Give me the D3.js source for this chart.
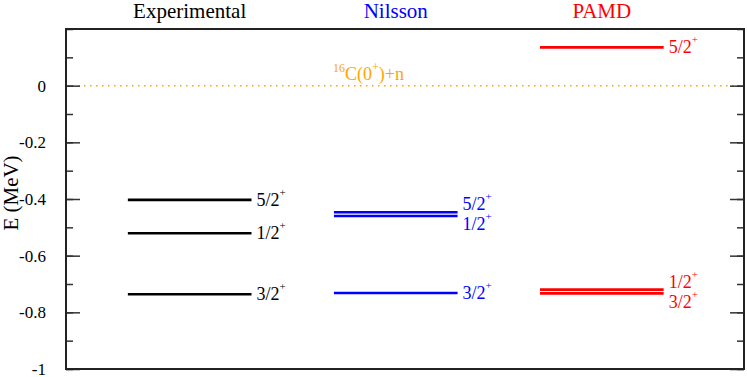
<!DOCTYPE html>
<html>
<head>
<meta charset="utf-8">
<script src="https://cdn.jsdelivr.net/npm/d3@7"></script>
<style>
  body { margin: 0; background: #fff; }
  svg text { font-family: "Liberation Serif", serif; }
</style>
</head>
<body>
<svg id="chart"></svg>
<script>
// Level scheme data
const groups = ["Experimental", "Nilsson", "PAMD"];
const groupColors = ["#000000", "#0000ff", "#ff0000"];
const expLevels = [-0.403, -0.521, -0.736];
const expSpins = ["5/2", "1/2", "3/2"];
const nilssonLevels = [-0.447, -0.460, -0.732];
const nilssonSpins = ["5/2", "1/2", "3/2"];
const pamdLevels = [0.135, -0.720, -0.733];
const pamdSpins = ["5/2", "1/2", "3/2"];
const thresholdE = 0;
const thresholdLabel = ["16", "C(0", "+", ")+n"];
const yTicks = [0, -0.2, -0.4, -0.6, -0.8, -1];

const serif = "Liberation Serif, serif";
const width = 747, height = 377;
const margin = { left: 66, right: 3, top: 29, bottom: 8 };

const svg = d3.select("#chart")
  .attr("width", width)
  .attr("height", height);

const x = d3.scaleBand()
  .domain(groups)
  .range([margin.left, width - margin.right])
  .paddingInner(0.4)
  .paddingOuter(0.345)
  .align(0.435);

const y = d3.scaleLinear()
  .domain([-1, 0.2])
  .range([height - margin.bottom, margin.top]);

// threshold line
svg.append("line")
  .attr("x1", margin.left).attr("x2", width - margin.right)
  .attr("y1", y(thresholdE)).attr("y2", y(thresholdE))
  .attr("stroke", "#ffa500")
  .attr("stroke-width", 1.5)
  .attr("stroke-dasharray", "1.5,4.5");

const thr = svg.append("text")
  .attr("x", 333).attr("y", y(thresholdE) - 6)
  .attr("fill", "#ffa500")
  .attr("font-family", serif)
  .attr("font-size", 18);
thr.append("tspan").attr("font-size", 12).attr("dy", -8).text(thresholdLabel[0]);
thr.append("tspan").attr("dy", 8).text(thresholdLabel[1]);
thr.append("tspan").attr("font-size", 12).attr("dy", -9).text(thresholdLabel[2]);
thr.append("tspan").attr("dy", 9).text(thresholdLabel[3]);

// axes (left and mirrored on right)
const fmt = d => d === 0 ? "0" : d3.format(".1f")(d).replace("−", "-").replace(/\.0$/, "");

svg.append("g")
  .attr("transform", `translate(${margin.left},0)`)
  .call(d3.axisLeft(y).ticks(12).tickSize(-7).tickFormat(""))
  .call(g => g.select(".domain").remove());
const gl = svg.append("g")
  .attr("transform", `translate(${margin.left},0)`)
  .call(d3.axisLeft(y).tickValues(yTicks).tickSize(-14).tickPadding(20).tickFormat(fmt))
  .attr("font-family", serif)
  .attr("font-size", 17);
gl.select(".domain").remove();
gl.selectAll("text").attr("fill", "#000");

svg.append("g")
  .attr("transform", `translate(${width - margin.right},0)`)
  .call(d3.axisRight(y).ticks(12).tickSize(-7).tickFormat(""))
  .call(g => g.select(".domain").remove());
svg.append("g")
  .attr("transform", `translate(${width - margin.right},0)`)
  .call(d3.axisRight(y).tickValues(yTicks).tickSize(-14).tickFormat(""))
  .call(g => g.select(".domain").remove());

svg.selectAll(".tick line").attr("stroke", "#333").attr("stroke-width", 1.5);

// frame
svg.append("rect")
  .attr("x", margin.left).attr("y", margin.top)
  .attr("width", width - margin.right - margin.left)
  .attr("height", height - margin.bottom - margin.top)
  .attr("fill", "none")
  .attr("stroke", "#222")
  .attr("stroke-width", 2);

// y label
svg.append("text")
  .attr("transform", `translate(18,193) rotate(-90)`)
  .attr("text-anchor", "middle")
  .attr("font-family", serif)
  .attr("font-size", 21)
  .text("E (MeV)");

// titles
svg.selectAll(".title")
  .data(groups)
  .join("text")
  .attr("class", "title")
  .attr("x", d => x(d) + x.bandwidth() / 2)
  .attr("y", 17.5)
  .attr("text-anchor", "middle")
  .attr("font-family", serif)
  .attr("font-size", 21)
  .attr("fill", (d, i) => groupColors[i])
  .text(d => d);

// spread labels so close levels do not overlap
function labelPositions(levels) {
  const pos = levels.map(e => y(e));
  const order = d3.range(pos.length).sort((a, b) => pos[a] - pos[b]);
  const out = pos.slice();
  const minGap = 20;
  let i = 0;
  while (i < order.length) {
    let j = i;
    while (j + 1 < order.length && pos[order[j + 1]] - pos[order[j]] < minGap) j++;
    const cluster = order.slice(i, j + 1);
    const mid = d3.mean(cluster, k => pos[k]);
    cluster.forEach((k, n) => { out[k] = mid + (n - (cluster.length - 1) / 2) * minGap; });
    i = j + 1;
  }
  return out;
}

const schemes = [
  { levels: expLevels, spins: expSpins },
  { levels: nilssonLevels, spins: nilssonSpins },
  { levels: pamdLevels, spins: pamdSpins }
];

schemes.forEach((s, gi) => {
  const g = svg.append("g");
  const x0 = x(groups[gi]);
  const x1 = x0 + x.bandwidth();
  const color = groupColors[gi];
  g.selectAll("line")
    .data(s.levels)
    .join("line")
    .attr("x1", x0).attr("x2", x1)
    .attr("y1", d => y(d)).attr("y2", d => y(d))
    .attr("stroke", color)
    .attr("stroke-width", 2.6);

  const ly = labelPositions(s.levels);
  s.spins.forEach((sp, k) => {
    const t = g.append("text")
      .attr("x", x1 + 5)
      .attr("y", ly[k] + 6)
      .attr("fill", color)
      .attr("font-family", serif)
      .attr("font-size", 18);
    t.append("tspan").text(sp);
    t.append("tspan").attr("font-size", 11).attr("dy", -10).text("+");
  });
});
</script>
</body>
</html>
